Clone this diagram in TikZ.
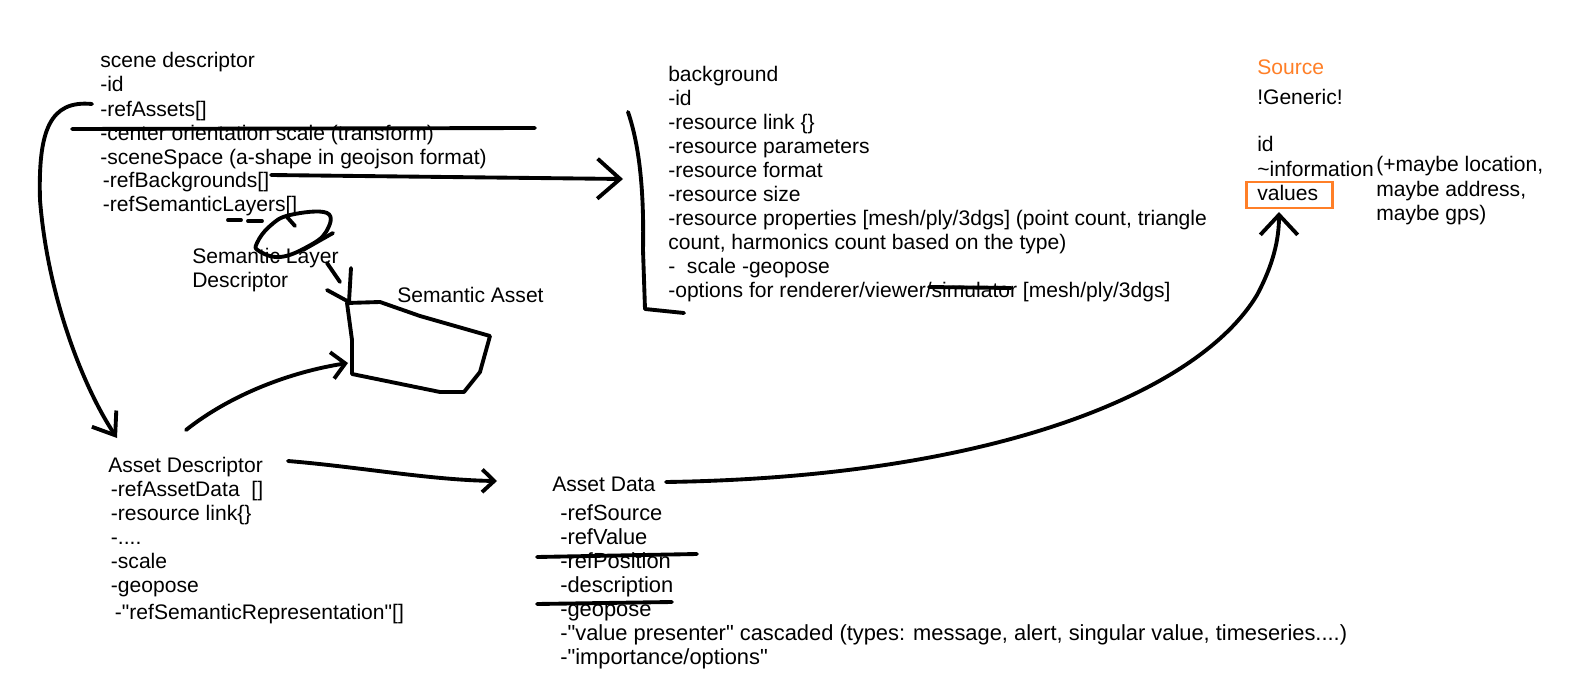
\documentclass[tikz,border=0pt]{standalone}
\usepackage{fontspec}
\setmainfont{Liberation Sans}
\usetikzlibrary{arrows.meta}
\definecolor{paintorange}{RGB}{255,127,39}
\newcommand{\qq}{\textquotedbl}
\tikzset{
  pen/.style={line width=2.9pt, line cap=round, line join=round},
  barb/.style 2 args={-{Straight Barb[length=#1, width=#2]}},
  txt/.style={anchor=base west, inner sep=0pt, align=left, font=\fontsize{15.8}{18}\selectfont},
}
\begin{document}
\begin{tikzpicture}[x=0.75pt,y=-0.75pt]
	\useasboundingbox[fill=white] (0,0) rectangle (1574,688);
	% text blocks (placed at the baseline of their last line)
	\node[txt] (scene) at (100,212) {scene descriptor\\-id\\-refAssets[]\\-center orientation scale (transform)\\-sceneSpace (a-shape in geojson format)\\\hspace{2pt}-refBackgrounds[]\\\hspace{2pt}-refSemanticLayers[]};
	\node[txt] (bg) at (668,297) {background\\-id\\-resource link \{\}\\-resource parameters\\-resource format\\-resource size\\-resource properties [mesh/ply/3dgs] (point count, triangle\\count, harmonics count based on the type)\\-\ \ scale -geopose\\-options for renderer/viewer/simulator [mesh/ply/3dgs]};
	\node[txt, text=paintorange] (src) at (1257,75) {Source};
	\node[txt] (srcbody) at (1257,200) {!Generic!\\[18pt]id\\\textasciitilde information\\values};
	\node[draw=paintorange, line width=2.2pt, minimum width=65pt, minimum height=19.5pt, inner sep=0pt] (values) at (1289.5,195) {};
	\node[txt] (maybe) at (1376,220) {(+maybe location,\\maybe address,\\maybe gps)};
	\node[txt] (ad) at (108,619) {Asset Descriptor\\\hspace{2pt}-refAssetData\ \ []\\\hspace{2pt}-resource link\{\}\\\hspace{2pt}-....\\\hspace{2pt}-scale\\\hspace{2pt}-geopose\\[2pt]\hspace{5pt}-\qq refSemanticRepresentation\qq[]};
	\node[txt] (adata) at (552,491) {Asset Data};
	\node[txt, font=\fontsize{16.4}{18}\selectfont] (adbody) at (560,664) {-refSource\\-refValue\\-refPosition\\-description\\-geopose\\-\qq value presenter\qq{} cascaded (types: message, alert, singular value, timeseries....)\\-\qq importance/options\qq};
	\node[txt] (sld) at (192,287) {Semantic Layer\\Descriptor};
	\node[txt] (sa) at (397,302) {Semantic Asset};
	% struck out entries
	\draw[pen] (72,129) -- (535,128);
	\draw[pen] (929,287) -- (1011,288);
	\draw[pen] (537,557) -- (697,554);
	\draw[pen] (537,604) -- (672,602);
	% bracket round the background entries
	\draw[pen] (628,112) .. controls (641,150) and (644,200) .. (643,250) -- (645,309) -- (684,313);
	% semantic asset outline
	\draw[pen] (347,303) -- (380,302) -- (420,316) -- (490,336) -- (480,372) -- (464,392) -- (440,392) -- (352,374) -- (352,340) -- cycle;
	% connector ends
	\coordinate (ra-out) at (92,104);
	\coordinate (ad-in) at (117,438);
	\coordinate (rb-out) at (271,175);
	\coordinate (bg-in) at (623,179);
	\coordinate (ad-out) at (288,461);
	\coordinate (adata-in) at (497,481);
	\coordinate (ad-up) at (186,430);
	\coordinate (sa-in) at (348,363);
	\coordinate (adata-out) at (666,482);
	\coordinate (values-in) at (1279,212);
	% connectors
	\draw[pen, barb={15pt}{22pt}] (ra-out) .. controls (50,100) and (38,130) .. (40,200) .. controls (48,300) and (85,390) .. (ad-in);
	\draw[pen, barb={17pt}{30pt}] (rb-out) -- (bg-in);
	\draw[pen, barb={9pt}{17pt}] (ad-out) .. controls (360,467) and (430,480) .. (adata-in);
	\draw[pen, barb={10pt}{20pt}] (ad-up) .. controls (230,395) and (290,372) .. (sa-in);
	\draw[pen, barb={15pt}{28pt}] (adata-out) .. controls (1000,477) and (1200,390) .. (1257,295) .. controls (1273,265) and (1279,240) .. (values-in);
	% semantic layer scribble
	\draw[pen] (228,220) -- (241,220);
	\draw[pen] (248,221) -- (262,221);
	\draw[pen] plot[smooth cycle, tension=0.7] coordinates {(257,243) (270,226) (290,215) (327,213) (326,232) (307,247) (280,257) (259,251)};
	\draw[pen] (287,217) -- (295,226);
	\draw[pen] (333,233) -- (303,250);
	\draw[pen] (327,263) -- (340,282);
	\draw[pen] (351,268) -- (349,302) -- (327,290);
\end{tikzpicture}
\end{document}
